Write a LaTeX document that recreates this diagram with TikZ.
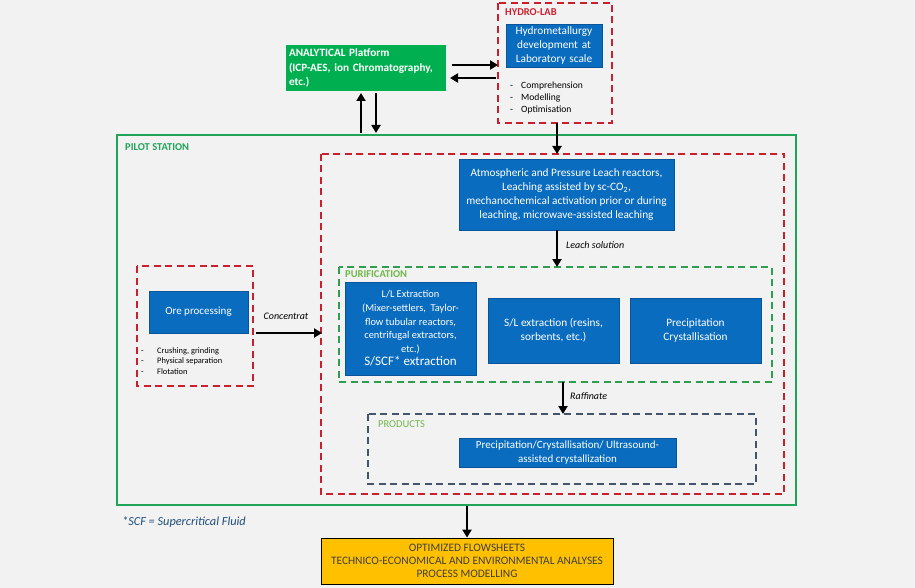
\documentclass[tikz,border=0pt]{standalone}
\usepackage{fontspec}
\setmainfont{Carlito}
\usetikzlibrary{arrows.meta,positioning}
\definecolor{bgray}{HTML}{F2F2F2}
\definecolor{boxblue}{HTML}{0A6CBF}
\definecolor{boxgreen}{HTML}{00B050}
\definecolor{linegreen}{HTML}{22A35A}
\definecolor{dashred}{HTML}{CC1F2D}
\definecolor{dashgreen}{HTML}{2E9E4F}
\definecolor{lightgreen}{HTML}{70B84A}
\definecolor{dashslate}{HTML}{44546A}
\definecolor{noteblue}{HTML}{1F4E79}
\definecolor{boxorange}{HTML}{FFC000}
\begin{document}
\begin{tikzpicture}[x=1pt,y=-1pt,
      every node/.style={inner sep=2pt},
      bluebox/.style={fill=boxblue,draw=boxblue!80!black,text=white,align=center,font=\fontsize{11.3}{14}\selectfont},
      redframe/.style={draw=dashred,line width=1.6pt,dash pattern=on 7pt off 4.5pt},
      greenframe/.style={draw=dashgreen,line width=1.6pt,dash pattern=on 7pt off 4.5pt},
      slateframe/.style={draw=dashslate,line width=1.6pt,dash pattern=on 7pt off 4.5pt},
      flow/.style={line width=2.6pt,-{Triangle[length=8pt,width=9pt]}},
      tag/.style={font=\bfseries\fontsize{10.5}{12}\selectfont,anchor=west,inner sep=0pt},
      flowlabel/.style={font=\itshape\fontsize{10}{12}\selectfont,inner sep=0pt},
      itemlist/.style={anchor=north west,align=left,inner sep=0pt}]
    % background
    \fill[bgray] (0,0) rectangle (915,588);
    % hydro-lab
    \draw[redframe] (498,3) rectangle (612,123);
    \coordinate (hydrobot) at (557,123);
    \node[tag,text=dashred] at (505,12) {HYDRO-LAB};
    \node[bluebox,minimum width=96pt,minimum height=43pt,text width=92pt] (hydro) at (554,45.5)
        {Hydrometallurgy development at Laboratory scale};
    \node[itemlist,font=\fontsize{9.6}{12.3}\selectfont] (hydrolist) at (510,81.5)
        {\makebox[11pt][l]{-}Comprehension\\\makebox[11pt][l]{-}Modelling\\\makebox[11pt][l]{-}Optimisation};
    % analytical platform
    \node[fill=boxgreen,text=white,align=left,font=\bfseries\fontsize{11.2}{14.5}\selectfont,
          minimum width=160pt,minimum height=46pt,text width=154pt] (analytic) at (366,68)
        {ANALYTICAL Platform\\(ICP-AES, ion Chromatography,\\etc.)};
    \coordinate (hydroleft) at (498,65);
    \coordinate (hydroleft2) at (496,78);
    \draw[flow] (analytic.east |- hydroleft) ++(6,0) -- (hydroleft);
    \draw[flow] (hydroleft2) -- ++(-46,0);
    % pilot station
    \draw[linegreen,line width=1.3pt] (117,135) rectangle (796,505);
    \node[tag,text=linegreen] at (125,147) {PILOT STATION};
    \draw[flow] (361,133) -- (361,93);
    \draw[flow] (376,93) -- (376,133);
    % hydrometallurgy area
    \draw[redframe] (321,154) rectangle (784,494);
    \draw[flow] (hydrobot) -- (557,154);
    \node[bluebox,minimum width=215pt,minimum height=71pt] (leach) at (566.5,194.5)
        {Atmospheric and Pressure Leach reactors,\\Leaching assisted by sc-CO\textsubscript{2},\\
         mechanochemical activation prior or during\\leaching, microwave-assisted leaching};
    % purification
    \draw[greenframe] (339,267) rectangle (772,382);
    \node[tag,text=lightgreen] at (345,274) {PURIFICATION};
    \draw[flow] (557,230) -- (557,267);
    \node[flowlabel,anchor=west] at (566,245) {Leach solution};
    \node[bluebox,minimum width=131pt,minimum height=93pt,font=\fontsize{10.4}{13.6}\selectfont] (llx) at (410.5,328.5)
        {L/L Extraction\\(Mixer-settlers, \ Taylor-\\flow tubular reactors,\\centrifugal extractors,\\etc.)\\
         {\fontsize{13}{14}\selectfont S/SCF* extraction}};
    \node[bluebox,minimum width=131pt,minimum height=65pt] (slx) at (553.5,330.5)
        {S/L extraction (resins,\\sorbents, etc.)};
    \node[bluebox,minimum width=131pt,minimum height=65pt] (precip) at (695.5,330.5)
        {Precipitation\\Crystallisation};
    % products
    \draw[flow] (563,382) -- (563,414);
    \node[flowlabel,anchor=west] at (570,396) {Raffinate};
    \draw[slateframe] (368,414) rectangle (756,484);
    \node[tag,text=lightgreen,font=\fontsize{10.5}{12}\selectfont] at (378,424) {PRODUCTS};
    \node[bluebox,minimum width=217pt,minimum height=29pt,font=\fontsize{11}{13.5}\selectfont] (prod) at (567.5,452.5)
        {Precipitation/Crystallisation/ Ultrasound-\\assisted crystallization};
    % ore processing
    \draw[redframe] (137,266) rectangle (253,386);
    \node[bluebox,minimum width=99pt,minimum height=42pt,font=\fontsize{11}{13}\selectfont] (ore) at (198.5,312) {Ore processing};
    \node[itemlist,font=\fontsize{8.4}{10.8}\selectfont] (orelist) at (141,347)
        {\makebox[16pt][l]{-}Crushing, grinding\\\makebox[16pt][l]{-}Physical separation\\\makebox[16pt][l]{-}Flotation};
    \coordinate (oreright) at (256,333);
    \draw[flow] (oreright) -- (322,333);
    \node[flowlabel] at (286,316) {Concentrat};
    % footnote and output
    \node[font=\itshape\fontsize{12.3}{14}\selectfont,text=noteblue,anchor=west,inner sep=0pt] (scf) at (122,522)
        {*SCF = Supercritical Fluid};
    \node[fill=boxorange,draw=black,line width=0.8pt,align=center,text=black!75,
          font=\fontsize{11.4}{13.2}\selectfont,minimum width=292pt,minimum height=46pt] (flowsheet) at (467,561)
        {OPTIMIZED FLOWSHEETS\\TECHNICO-ECONOMICAL AND ENVIRONMENTAL ANALYSES\\PROCESS MODELLING};
    \draw[flow] (467,506) -- (flowsheet.north);
\end{tikzpicture}
\end{document}
